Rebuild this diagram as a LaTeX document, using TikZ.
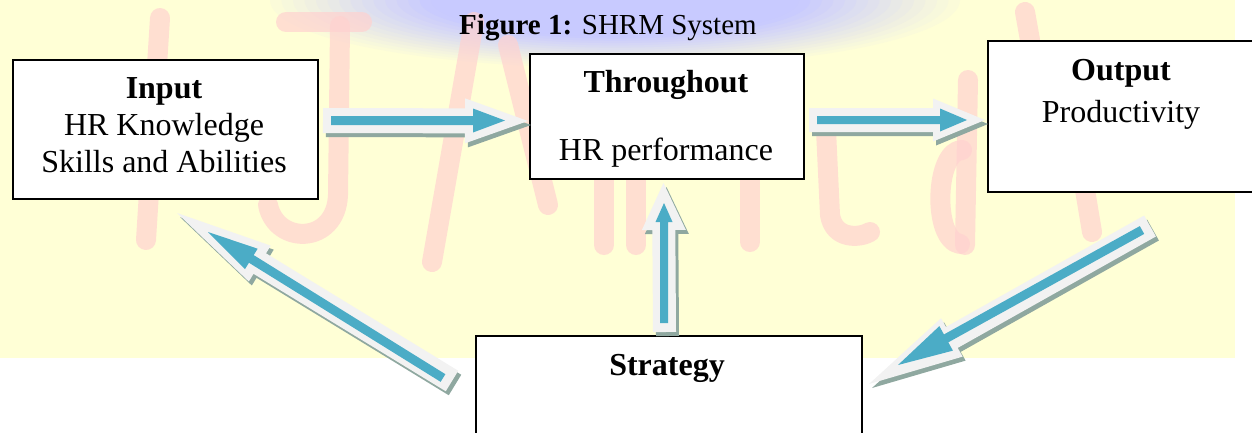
\documentclass[tikz,border=0pt]{standalone}
\usepackage{fontspec}
\setmainfont{Liberation Serif}
\usetikzlibrary{calc}
\definecolor{bgyellow}{RGB}{255,255,214}
\definecolor{wmpink}{RGB}{255,210,208}
\definecolor{wmblue}{RGB}{200,202,255}
\definecolor{arrowgrey}{RGB}{242,242,242}
\definecolor{arrowblue}{RGB}{75,172,198}
\definecolor{arrowshadow}{RGB}{143,168,160}
% block arrow outline: #1 start, #2 tip, #3 body half width, #4 head half width, #5 head length
\newcommand\blockarrowpath[5]{($(#1)!#3!90:(#2)$) -- ($(#2)!#5!(#1)!#3!-90:(#1)$) -- ($(#2)!#5!(#1)!#4!-90:(#1)$) -- (#2) -- ($(#2)!#5!(#1)!#4!90:(#1)$) -- ($(#2)!#5!(#1)!#3!90:(#1)$) -- ($(#1)!#3!-90:(#2)$) -- cycle}
\tikzset{
  arrshadow/.style={fill=arrowshadow, transform canvas={xshift=3pt,yshift=-4pt}},
  arrouter/.style={fill=arrowgrey},
  arrinner/.style={fill=arrowblue},
  box/.style={draw=black, line width=2pt, fill=white, inner sep=0pt, anchor=north west},
  boxtitle/.style={font=\bfseries\fontsize{32}{38}\selectfont, anchor=base, inner sep=0pt},
  boxtext/.style={font=\fontsize{32}{38}\selectfont, anchor=base, inner sep=0pt},
  wm/.style={draw=wmpink, line width=20pt, line cap=round, line join=round, opacity=0.7}
}
\begin{document}
\begin{tikzpicture}[x=1pt,y=-1pt]
\useasboundingbox (0,0) rectangle (1252,432);
% watermark background
\fill[bgyellow] (0,0) rectangle (1235,358);
\foreach \i in {1,...,30}{
  \pgfmathsetmacro\p{min(100,\i*7)}
  \pgfmathsetmacro\s{(31-\i)/30}
  \fill[wmblue!\p!bgyellow] (615,0) ellipse[x radius={345*\s}, y radius={68*\s}];
}
\draw[wm] (160,18) -- (146,240);
\draw[wm] (286,22) -- (362,22);
\draw[wm] (340,26) -- (338,195) .. controls (336,245) and (276,245) .. (268,205);
\draw[wm] (474,22) -- (432,262);
\draw[wm] (508,45) -- (548,205);
\draw[wm] (604,180) -- (604,245);
\draw[wm] (636,180) -- (636,245);
\draw[wm] (750,180) -- (750,242);
\draw[wm] (826,130) -- (830,215) .. controls (834,240) and (860,238) .. (870,232);
\draw[wm] (968,80) -- (965,245);
\draw[wm] (962,150) .. controls (935,150) and (932,240) .. (960,244);
\draw[wm] (1025,12) -- (1030,40);
\draw[wm] (1085,190) -- (1092,232);
% boxes
\node[box, minimum width=305, minimum height=139] (input) at (12,58.7) {};
\node[box, minimum width=274, minimum height=125] (through) at (529,52.7) {};
\node[box, minimum width=280, minimum height=151] (output) at (987,40.3) {};
\node[box, minimum width=386, minimum height=110] (strategy) at (474.5,334.5) {};
% texts
\node[font=\fontsize{29}{34}\selectfont, anchor=base, inner sep=0pt] (title) at (608,34) {\textbf{Figure 1:} SHRM System};
\node[boxtitle] (inputT) at (164,98) {Input};
\node[boxtext] (inputA) at (164,135) {HR Knowledge};
\node[boxtext] (inputB) at (164,172) {Skills and Abilities};
\node[boxtitle] (throughT) at (666,92.7) {Throughout};
\node[boxtext] (throughA) at (666,160) {HR performance};
\node[boxtitle] (outputT) at (1121,80) {Output};
\node[boxtext] (outputA) at (1121,122) {Productivity};
\node[boxtitle] (strategyT) at (667,375) {Strategy};
% arrow anchor coordinates
\coordinate (a1s) at (323,120.5); \coordinate (a1t) at (528,121);
\coordinate (a1is) at (331,120.5); \coordinate (a1it) at (505,120.5);
\coordinate (a2s) at (809,120); \coordinate (a2t) at (985,120);
\coordinate (a2is) at (817,120); \coordinate (a2it) at (967,120);
\coordinate (a3s) at (664.5,332); \coordinate (a3t) at (663.5,183);
\coordinate (a3is) at (664,323); \coordinate (a3it) at (664,203);
\coordinate (a4s) at (1150,226); \coordinate (a4t) at (869,384);
\coordinate (a4is) at (1142,230); \coordinate (a4it) at (898,365);
\coordinate (a5s) at (452,381); \coordinate (a5t) at (177,213);
\coordinate (a5is) at (443,378); \coordinate (a5it) at (208,232);
% arrows: shadow, outline, blue core
\foreach \a/\bh/\hh/\hl/\ibh/\ihh/\ihl in {a1/12.5pt/22.5pt/63pt/4.5pt/12pt/32pt, a2/12pt/21.5pt/52pt/4pt/11.5pt/27pt, a3/11.5pt/22pt/47pt/4pt/8.5pt/19pt, a4/12pt/22pt/95pt/4.5pt/14pt/55pt, a5/12pt/21pt/97pt/4.5pt/12pt/51pt}{
  \fill[arrshadow] \blockarrowpath{\a s}{\a t}{\bh}{\hh}{\hl};
  \fill[arrouter] \blockarrowpath{\a s}{\a t}{\bh}{\hh}{\hl};
  \fill[arrinner] \blockarrowpath{\a is}{\a it}{\ibh}{\ihh}{\ihl};
}
\end{tikzpicture}
\end{document}
